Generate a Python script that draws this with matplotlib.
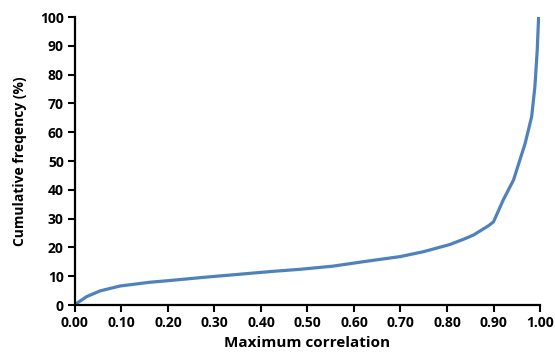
import matplotlib
matplotlib.use("Agg")
import matplotlib.pyplot as plt
from matplotlib.ticker import FormatStrFormatter, MultipleLocator

# Data
max_corr = [0.0, 0.004, 0.025, 0.054, 0.097, 0.161, 0.204, 0.276, 0.348, 0.419,
            0.484, 0.523, 0.555, 0.627, 0.699, 0.749, 0.806, 0.835, 0.857, 0.878,
            0.890, 0.900, 0.921, 0.943, 0.968, 0.982, 0.989, 0.994, 0.997]
cum_freq = [0.0, 0.6, 2.9, 4.9, 6.6, 7.9, 8.5, 9.6, 10.6, 11.6,
            12.4, 13.0, 13.5, 15.2, 16.8, 18.5, 21.0, 22.8, 24.3, 26.4,
            27.6, 28.9, 36.5, 43.4, 56.1, 65.4, 75.8, 88.5, 100.0]

x_ticks_step = 0.1
y_ticks_step = 10

plt.rcParams['font.family'] = ['Open Sans', 'DejaVu Sans']

fig = plt.figure(figsize=(5.55, 3.58), dpi=100)
ax = fig.add_axes([0.135, 0.148, 0.838, 0.8045])

ax.plot(max_corr, cum_freq, color='#4F81BD', lw=2.3, solid_capstyle='round',
        solid_joinstyle='round')

ax.set_xlim(0, 1.0)
ax.set_ylim(0, 100)
ax.xaxis.set_major_locator(MultipleLocator(x_ticks_step))
ax.yaxis.set_major_locator(MultipleLocator(y_ticks_step))
ax.xaxis.set_major_formatter(FormatStrFormatter('%.2f'))

for s in ['top', 'right']:
    ax.spines[s].set_visible(False)
for s in ['left', 'bottom']:
    ax.spines[s].set_linewidth(1.6)
    ax.spines[s].set_color('black')

ax.tick_params(direction='out', length=5, width=1.5, labelsize=10, pad=3)
for lab in ax.get_xticklabels() + ax.get_yticklabels():
    lab.set_fontweight('bold')

ax.set_xlabel('Maximum correlation', fontsize=11, fontweight='bold', labelpad=4)
ax.set_ylabel('Cumulative freqency (%)', fontsize=10, fontweight='bold', labelpad=9)

fig.savefig('out.png', dpi=100)
